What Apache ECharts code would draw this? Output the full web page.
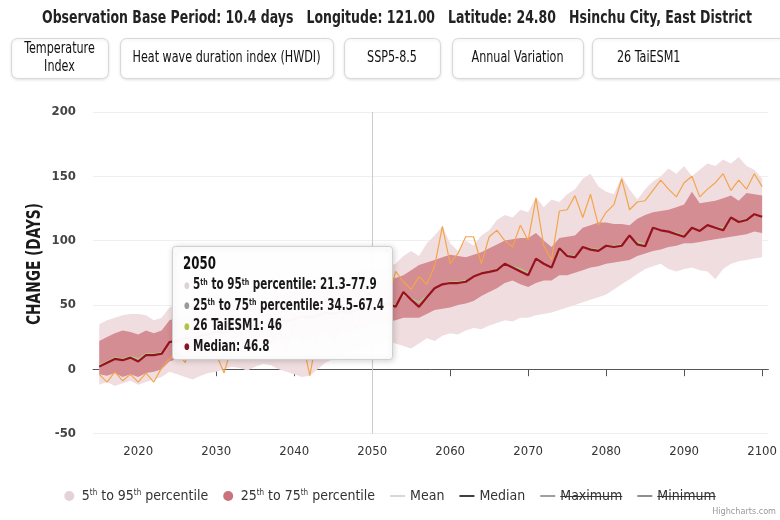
<!DOCTYPE html>
<html><head><meta charset="utf-8">
<script src="https://cdn.jsdelivr.net/npm/echarts@6.0.0/dist/echarts.min.js"></script>
<style>html,body{margin:0;padding:0;background:#fff;}#chart{width:780px;height:520px;}</style>
</head><body><div id="chart"></div>
<script>
// ---------- DATA ----------
const years = Array.from({length: 86}, (_, i) => 2015 + i);
const tickYears = [2020, 2030, 2040, 2050, 2060, 2070, 2080, 2090, 2100];
const yTicks = [-50, 0, 50, 100, 150, 200];

const median = [2,5,8,7,9,6,11,11,12,21,
 22,24,23,26,27,29,28,31,33,32,
 34,36,35,38,37,39,41,40,42,44,
 43,45,44,46,48,46.8,49,51,48.5,60,
 54,48.5,56,63,66,67,67,68,72,74.5,
 75.7,77,82,79,76,73,86,82,79,94,
 88,87,95,93,92,96,95,96,104,97,
 95.6,110,108,107,105,103,110,107.5,112,110,
 108,118,114.5,116,120.5,118.5];
const p25 = [-4,-5,-3,-6,-4,-6,-3,-2,0,6,
 8,9,8,11,12,13,14,15,17,16,
 18,20,19,22,21,23,24,23,26,28,
 27,29,30,32,33,34.5,36,37,38,40,
 40,40,43,46,47,48,50,51,53,57,
 60,63,67,69,66,64,67,69,69,73,
 73,75,77,79,80,82,83,84,85,88,
 90,92,93,95,96,98,98,99,100,101,
 102,103,104,105,107,106];
const p75 = [22,25,28,30,29,27,30,28,30,38,
 40,41,43,44,46,47,48,50,51,52,
 54,55,56,58,57,59,60,61,62,63,
 62,64,65,66,66,67.4,68,70,71,73,
 77,81,83,85,87,89,88,87,89,91,
 94,97,100,101,102,102,106,100,95,102,
 103,104,110,112,114,114,113,113,112,117,
 120,122,123,124,126,128,138,129,130,131,
 133,135,131,137,136,135];
const p5 = [-12,-10,-13,-11,-9,-12,-10,-8,-6,-2,
 -4,-6,-8,-5,-3,-2,0,2,1,-1,
 2,4,3,0,-2,-4,-6,-5,0,5,
 8,10,13,15,18,21.3,20,22,20,18,
 16,20,24,22,26,28,27,30,32,31,
 34,36,38,37,40,40,42,43,44,46,
 48,50,52,54,56,58,62,66,70,74,
 78,80,82,78,76,78,79,77,76,70,
 78,82,84,85,86,87];
const p95 = [35,38,40,42,43,43,42,38,40,48,
 50,52,54,55,58,57,60,62,61,63,
 65,66,64,67,68,70,71,69,72,74,
 73,75,74,76,77,77.9,76,80,82,88,
 92,88,98,104,111,98,92,100,96,104,
 108,116,120,118,124,122,134,126,132,130,
 136,140,148,152,142,138,136,150,140,132,
 140,146,150,156,152,158,150,155,160,158,
 163,160,165,158,155,148];
const taiesm1 = [-4,-10,-2,-9,-4,-10,-3,-10,1,8,
 15,5,22,10,28,12,-3,18,30,14,
 26,38,20,32,15,36,24,-5,28,40,
 22,35,48,30,52,46,40,52,76,68,
 62,72,66,80,111,82,90,103,103,82,
 103,108,100,95,112,100,133,96,85,123,
 124,135,118,136,112,122,128,148,124,130,
 131,139,147,140,134,145,150,134,140,145,
 152,139,147,140,152,142];
const mean = [3,6,9,8,10,8,12,12,13,20,
 23,25,24,27,28,30,29,32,33,33,
 35,37,36,38,38,40,41,41,43,44,
 44,46,45,47,48,47.5,50,52,50,58,
 55,52,57,63,66,68,68,69,72,75,
 76,78,82,80,78,75,85,82,80,92,
 89,88,95,94,93,96,96,97,103,99,
 97,109,108,107,106,104,110,108,112,110,
 110,117,115,117,120,119];
const maximum = [];
const minimum = [];

const tipYear = 2050;
const titleText = 'Observation Base Period: 10.4 days   Longitude: 121.00   Latitude: 24.80   Hsinchu City, East District';
const yAxisTitle = 'CHANGE (DAYS)';
const buttonLabels = ['Temperature\nIndex', 'Heat wave duration index (HWDI)', 'SSP5-8.5', 'Annual Variation', '26 TaiESM1'];
const names = {
  band95: '5th to 95th percentile', band75: '25th to 75th percentile',
  mean: 'Mean', median: 'Median', max: 'Maximum', min: 'Minimum', model: '26 TaiESM1'
};

// ---------- STYLE / LAYOUT ----------
const FONT = "'Liberation Sans Narrow','DejaVu Sans Condensed','Roboto',sans-serif";
const C = {band95: '#f0dde0', band75: '#d48d93', median: '#9a1020', mean: '#a6d17f', model: '#f2a54a'};
const ctx = document.createElement('canvas').getContext('2d');
function tw(s, size, weight) { ctx.font = (weight || 'normal') + ' ' + size + 'px ' + FONT; return ctx.measureText(s).width; }
function richWidth(str, size, weight, rich) {
  let w = 0, last = 0, m; const re = /\{(\w+)\|([^}]*)\}/g;
  while ((m = re.exec(str))) {
    if (m.index > last) w += tw(str.slice(last, m.index), size, weight);
    const r = rich[m[1]] || {};
    w += tw(m[2], r.fontSize || size, r.fontWeight || weight);
    last = re.lastIndex;
  }
  if (last < str.length) w += tw(str.slice(last), size, weight);
  return w;
}

const chart = echarts.init(document.getElementById('chart'), null, {renderer: 'canvas'});

function bandSeries(name, lo, hi, color, z) {
  return {
    name: name, type: 'custom', z: z, silent: true,
    itemStyle: {color: color},
    data: [[years[0], lo[0]]],
    renderItem: function (params, api) {
      const pts = [];
      for (let i = 0; i < years.length; i++) pts.push(api.coord([years[i], hi[i]]));
      for (let i = years.length - 1; i >= 0; i--) pts.push(api.coord([years[i], lo[i]]));
      return {type: 'polygon', shape: {points: pts}, style: {fill: color}};
    }
  };
}
const pairs = arr => years.map((y, i) => [y, arr[i]]);

// ---------- graphics: title, buttons, tooltip ----------
const graphics = [];
const titleScale = 710 / tw(titleText, 17, 'bold');
graphics.push({type: 'text', x: 397, y: 19, scaleX: titleScale, z: 100,
  style: {text: titleText, x: 0, y: 0, align: 'center', verticalAlign: 'middle', font: 'bold 17px ' + FONT, fill: '#222'}});

// rotated y-axis title
const yTitleScale = 122 / tw(yAxisTitle, 20, 'bold');
graphics.push({type: 'text', x: 35, y: 264, rotation: Math.PI / 2, scaleX: yTitleScale, z: 100,
  style: {text: yAxisTitle, x: 0, y: 0, align: 'center', verticalAlign: 'middle', font: 'bold 20px ' + FONT, fill: '#1a1a1a'}});

const boxes = [{x: 11, w: 97}, {x: 120, w: 213}, {x: 344, w: 96}, {x: 452, w: 131}, {x: 592, w: 200, left: 617}];
const btnScale = 188 / tw(buttonLabels[1], 15, 'normal');
boxes.forEach((b, i) => {
  graphics.push({type: 'rect', z: 90, shape: {x: b.x + 0.5, y: 38.5, width: b.w, height: 40, r: 6},
    style: {fill: '#fff', stroke: '#d9d9d9', lineWidth: 1, shadowBlur: 3, shadowColor: 'rgba(0,0,0,0.10)', shadowOffsetY: 1}});
  const cx = b.left !== undefined ? b.left : b.x + b.w / 2;
  graphics.push({type: 'text', z: 91, x: cx, y: 58.5, scaleX: btnScale,
    style: {text: buttonLabels[i], x: 0, y: 0, align: b.left !== undefined ? 'left' : 'center', verticalAlign: 'middle',
      font: '15px ' + FONT, lineHeight: 18, fill: '#111'}});
});

// tooltip (static, values read from the data arrays)
const ti = years.indexOf(tipYear);
const tipRich = {
  b: {fontSize: 17, fontWeight: 'bold', fill: '#111', fontFamily: FONT},
  s: {fontSize: 9, fontWeight: 'bold', fill: '#222', fontFamily: FONT, verticalAlign: 'top', lineHeight: 14},
  d1: {fontSize: 9, fill: '#ddd3d5', fontFamily: FONT},
  d2: {fontSize: 9, fill: '#9a9a9a', fontFamily: FONT},
  d3: {fontSize: 9, fill: '#b3c246', fontFamily: FONT},
  d4: {fontSize: 9, fill: '#8b1424', fontFamily: FONT}
};
const tipLines = [
  '{b|' + tipYear + '}',
  '{d1|●} 5{s|th} to 95{s|th} percentile: ' + p5[ti] + '–' + p95[ti],
  '{d2|●} 25{s|th} to 75{s|th} percentile: ' + p25[ti] + '–' + p75[ti],
  '{d3|●} ' + names.model + ': ' + taiesm1[ti],
  '{d4|●} ' + names.median + ': ' + median[ti]
];
const tipScale = 200 / richWidth(tipLines[2], 15, 'bold', tipRich);
graphics.push({type: 'rect', z: 95, shape: {x: 172.5, y: 246.5, width: 220, height: 113, r: 3},
  style: {fill: 'rgba(255,255,255,0.97)', stroke: '#cfcfcf', lineWidth: 1, shadowBlur: 6, shadowColor: 'rgba(0,0,0,0.18)', shadowOffsetX: 1, shadowOffsetY: 1}});
tipLines.forEach((t, k) => {
  graphics.push({type: 'text', z: 96, x: k === 0 ? 183 : 184, y: 265 + k * 20.5, scaleX: tipScale,
    style: {text: t, x: 0, y: 0, verticalAlign: 'middle', align: 'left', rich: tipRich,
      fontSize: 15, fontWeight: 'bold', fontFamily: FONT, fill: '#1a1a1a'}});
});
// credits
graphics.push({type: 'text', z: 50, x: 776, y: 512,
  style: {text: 'Highcharts.com', align: 'right', verticalAlign: 'middle', font: '9px ' + FONT, fill: '#999'}});

// ---------- OPTION ----------
const legendRich = {s: {fontSize: 8, verticalAlign: 'top', color: '#333', fontFamily: FONT, lineHeight: 12}};
const legendFmt = {};
legendFmt[names.band95] = '5{s|th} to 95{s|th} percentile';
legendFmt[names.band75] = '25{s|th} to 75{s|th} percentile';
const dashIcon = 'path://M0,0 L16,0 L16,2 L0,2 Z';

const option = {
  animation: false,
  backgroundColor: '#fff',
  grid: {left: 93, right: 5, top: 112, bottom: 86.5},
  xAxis: {
    type: 'value', min: 2014.2, max: 2100.8,
    axisLine: {lineStyle: {color: '#555', width: 1}},
    axisTick: {length: 7, lineStyle: {color: '#555'}, customValues: tickYears},
    axisLabel: {customValues: tickYears, color: '#333', fontSize: 13, fontFamily: FONT, margin: 12, formatter: v => String(v)},
    splitLine: {show: false}
  },
  yAxis: {
    type: 'value', min: yTicks[0], max: yTicks[yTicks.length - 1], interval: 50,
    axisLine: {show: false}, axisTick: {show: false},
    axisLabel: {color: '#444', fontSize: 13, fontWeight: 'bold', fontFamily: FONT, margin: 17},
    splitLine: {lineStyle: {color: '#efefef', width: 1}}
  },
  legend: {
    top: 484, left: 'center', itemGap: 15, itemWidth: 15, itemHeight: 10, symbolKeepAspect: true,
    textStyle: {fontFamily: FONT, fontSize: 14, color: '#333', rich: legendRich},
    formatter: n => legendFmt[n] || n,
    data: [
      {name: names.band95, icon: 'circle', itemStyle: {color: '#e3d3d6'}},
      {name: names.band75, icon: 'circle', itemStyle: {color: '#c9747d'}},
      {name: names.mean, icon: dashIcon, itemStyle: {color: '#d6d6d6'}},
      {name: names.median, icon: dashIcon, itemStyle: {color: '#333'}},
      {name: names.max, icon: dashIcon, itemStyle: {color: '#999'}},
      {name: names.min, icon: dashIcon, itemStyle: {color: '#888'}}
    ]
  },
  series: [
    {name: 'crosshair', type: 'line', data: [], z: 0, silent: true,
      markLine: {silent: true, symbol: ['none', 'none'], label: {show: false},
        lineStyle: {color: '#cccccc', width: 1, type: 'solid'}, data: [{xAxis: tipYear}]}},
    bandSeries(names.band95, p5, p95, C.band95, 1),
    bandSeries(names.band75, p25, p75, C.band75, 2),
    {name: names.model, type: 'line', data: pairs(taiesm1), symbol: 'none', z: 3, silent: true,
      lineStyle: {color: C.model, width: 1.2}, itemStyle: {color: C.model}},
    {name: names.mean, type: 'line', data: pairs(mean), symbol: 'none', z: 4, silent: true,
      lineStyle: {color: C.mean, width: 1.2}, itemStyle: {color: C.mean}},
    {name: names.median, type: 'line', data: pairs(median), symbol: 'none', z: 5, silent: true,
      lineStyle: {color: C.median, width: 2.2}, itemStyle: {color: C.median}},
    {name: names.max, type: 'line', data: maximum, symbol: 'none', lineStyle: {color: '#999', width: 1}, itemStyle: {color: '#999'}},
    {name: names.min, type: 'line', data: minimum, symbol: 'none', lineStyle: {color: '#888', width: 1}, itemStyle: {color: '#888'}}
  ],
  graphic: graphics
};
chart.setOption(option);

// strike-through on the hidden-series legend labels (Maximum / Minimum), positioned from the rendered legend
(function () {
  const zr = chart.getZr();
  const strikes = [];
  const seen = {};
  const list = zr.storage.getDisplayList(true);
  list.forEach(el => {
    const txt = el.style && el.style.text;
    if ((txt === names.max || txt === names.min) && !seen[txt]) {
      seen[txt] = true;
      const r = el.getBoundingRect().clone();
      const m = el.getComputedTransform ? el.getComputedTransform() : el.transform;
      if (m) r.applyTransform(m);
      const y = Math.round(r.y + r.height * 0.47) + 0.5;
      strikes.push({type: 'line', z: 200, silent: true,
        shape: {x1: r.x, y1: y, x2: r.x + r.width, y2: y},
        style: {stroke: '#333', lineWidth: 1}});
    }
  });
  if (strikes.length) chart.setOption({graphic: graphics.concat(strikes)});
})();
</script></body></html>
